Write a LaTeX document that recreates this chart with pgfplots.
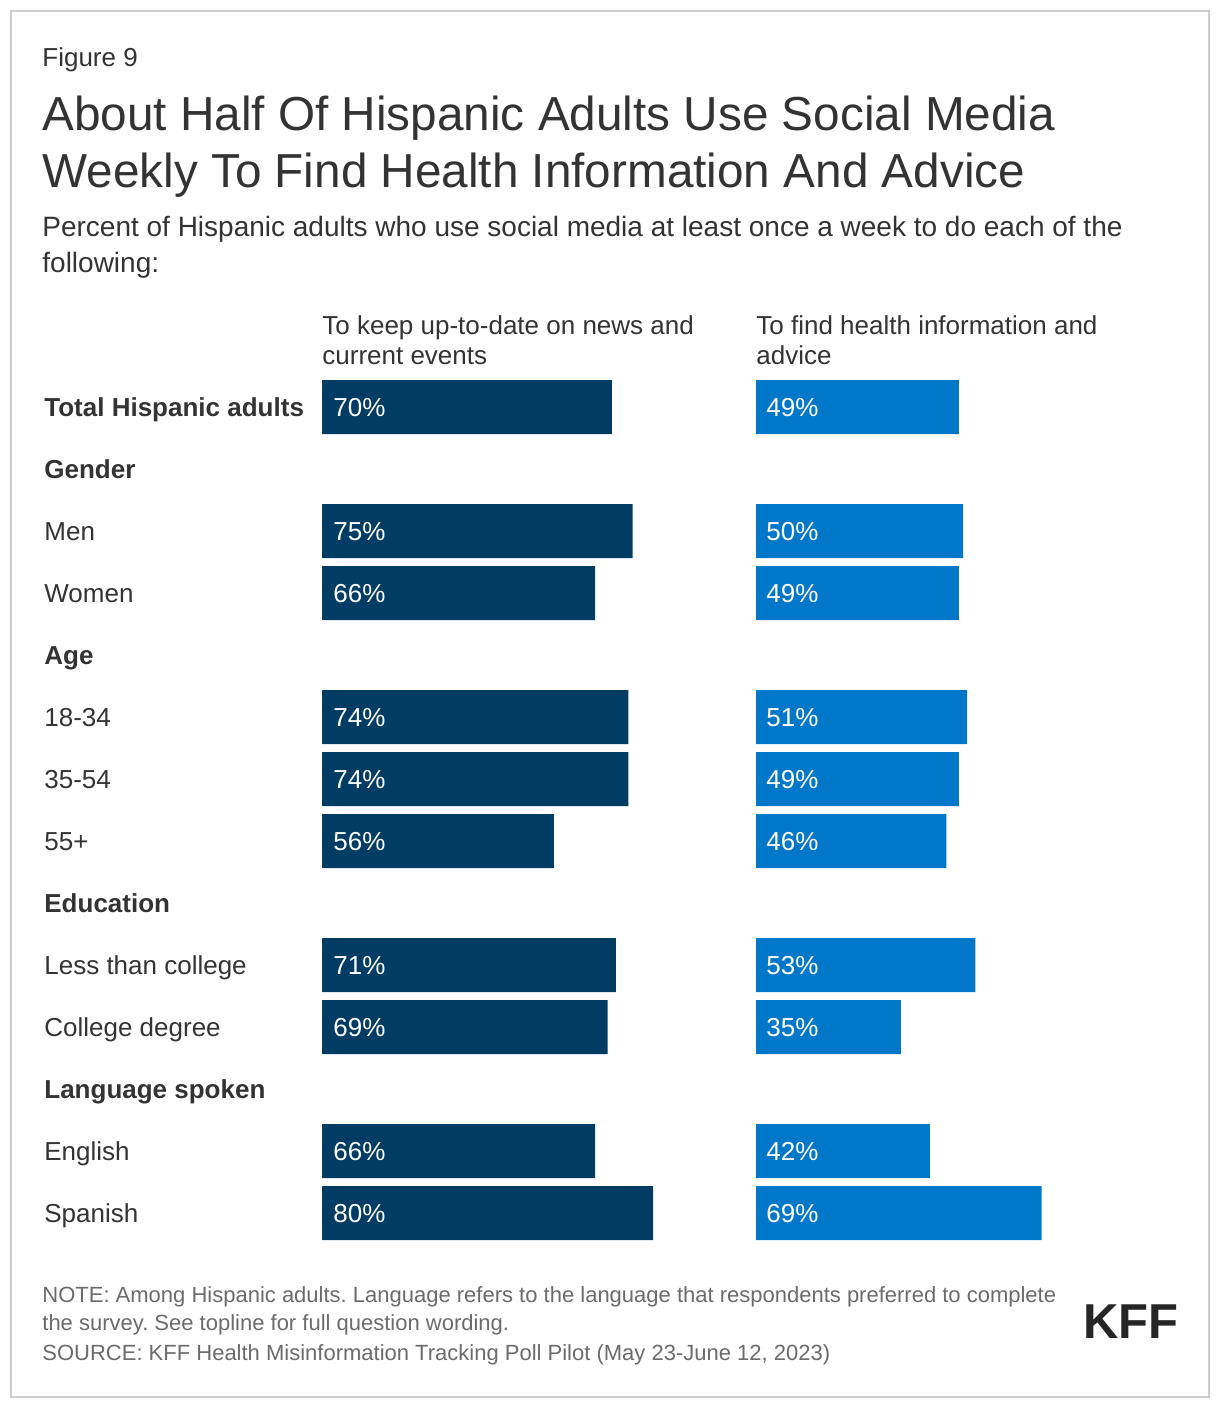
\documentclass[border=0pt]{standalone}
\usepackage{pgfplots}
\pgfplotsset{compat=1.18}
\usepackage{fontspec}
\setmainfont{Liberation Sans}
\frenchspacing
\definecolor{navy}{HTML}{003C64}
\definecolor{kblue}{HTML}{0077C8}
\definecolor{txt}{HTML}{333333}
\definecolor{note}{HTML}{6B6B6B}
\definecolor{frame}{HTML}{CCCCCC}
\newcommand{\fs}[1]{\fontsize{#1}{#1}\selectfont}
\begin{document}
\begin{tikzpicture}[x=0.5pt,y=-0.5pt]
\path (0,0) rectangle (1220,1408);
\draw[frame, line width=1pt] (11,11) rectangle (1209,1397);
% titles
\node[anchor=base west, inner sep=0, text=txt, font=\fs{13}] at (42,66) {Figure 9};
\node[anchor=base west, inner sep=0, text=txt, font=\fs{23.85}] at (42,130) {About Half Of Hispanic Adults Use Social Media};
\node[anchor=base west, inner sep=0, text=txt, font=\fs{23.85}] at (42,187) {Weekly To Find Health Information And Advice};
\node[anchor=base west, inner sep=0, text=txt, font=\fs{14}] at (42,236) {Percent of Hispanic adults who use social media at least once a week to do each of the};
\node[anchor=base west, inner sep=0, text=txt, font=\fs{14}] at (42,272) {following:};
% column headers
\node[anchor=base west, inner sep=0, text=txt, font=\fs{13}] at (322,334) {To keep up-to-date on news and};
\node[anchor=base west, inner sep=0, text=txt, font=\fs{13}] at (322,364) {current events};
\node[anchor=base west, inner sep=0, text=txt, font=\fs{13}] at (756,334) {To find health information and};
\node[anchor=base west, inner sep=0, text=txt, font=\fs{13}] at (756,364) {advice};
% row labels
\foreach \lab/\r/\b in {Total Hispanic adults/0/1, Gender/1/1, Men/2/0, Women/3/0, Age/4/1, 18-34/5/0, 35-54/6/0, 55+/7/0, Education/8/1, Less than college/9/0, College degree/10/0, Language spoken/11/1, English/12/0, Spanish/13/0}{
  \ifnum\b=1
    \node[anchor=base west, inner sep=0, text=txt, font=\fs{13}\bfseries] at (44,416+62*\r) {\lab};
  \else
    \node[anchor=base west, inner sep=0, text=txt, font=\fs{13}] at (44,416+62*\r) {\lab};
  \fi
}
% left bars
\begin{axis}[at={(161pt,-188pt)}, anchor=north west, scale only axis, width=207pt, height=434pt,
  xmin=0, xmax=100, ymin=-0.5, ymax=13.5, y dir=reverse, hide axis, clip=false]
\addplot[xbar, bar width=27pt, bar shift=0pt, fill=navy, draw=none] coordinates {
(70,0) (75,2) (66,3) (74,5) (74,6) (56,7) (71,9) (69,10) (66,12) (80,13)};
\addplot[only marks, mark=none, point meta=explicit symbolic, nodes near coords,
  nodes near coords style={anchor=west, inner sep=0, xshift=5.5pt, yshift=-0.4pt, text=white, font=\fs{13}}] coordinates {
(0,0) [70\%] (0,2) [75\%] (0,3) [66\%] (0,5) [74\%] (0,6) [74\%] (0,7) [56\%] (0,9) [71\%] (0,10) [69\%] (0,12) [66\%] (0,13) [80\%]};
\end{axis}
% right bars
\begin{axis}[at={(378pt,-188pt)}, anchor=north west, scale only axis, width=207pt, height=434pt,
  xmin=0, xmax=100, ymin=-0.5, ymax=13.5, y dir=reverse, hide axis, clip=false]
\addplot[xbar, bar width=27pt, bar shift=0pt, fill=kblue, draw=none] coordinates {
(49,0) (50,2) (49,3) (51,5) (49,6) (46,7) (53,9) (35,10) (42,12) (69,13)};
\addplot[only marks, mark=none, point meta=explicit symbolic, nodes near coords,
  nodes near coords style={anchor=west, inner sep=0, xshift=5pt, yshift=-0.4pt, text=white, font=\fs{13}}] coordinates {
(0,0) [49\%] (0,2) [50\%] (0,3) [49\%] (0,5) [51\%] (0,6) [49\%] (0,7) [46\%] (0,9) [53\%] (0,10) [35\%] (0,12) [42\%] (0,13) [69\%]};
\end{axis}
% notes
\node[anchor=base west, inner sep=0, text=note, font=\fs{11}] at (42,1302) {NOTE: Among Hispanic adults. Language refers to the language that respondents preferred to complete};
\node[anchor=base west, inner sep=0, text=note, font=\fs{11}] at (42,1330) {the survey. See topline for full question wording.};
\node[anchor=base west, inner sep=0, text=note, font=\fs{11}] at (42,1360) {SOURCE: KFF Health Misinformation Tracking Poll Pilot (May 23-June 12, 2023)};
\node[anchor=base west, inner sep=0, text=black!85, font=\fs{24.5}\bfseries] at (1083,1338) {KFF};
\end{tikzpicture}
\end{document}
